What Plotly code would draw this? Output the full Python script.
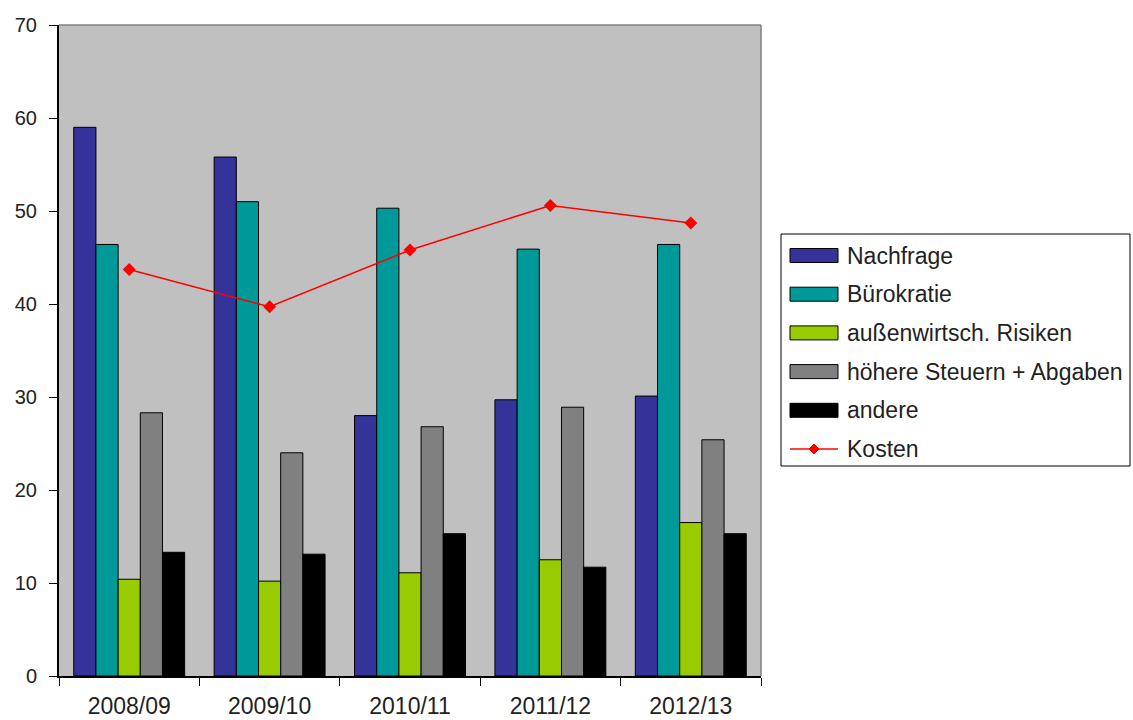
import plotly.graph_objects as go

# Survey years (x categories)
years = ["2008/09", "2009/10", "2010/11", "2011/12", "2012/13"]

# Share of answers per obstacle, in percent
nachfrage = [59.0, 55.8, 28.0, 29.7, 30.1]
buerokratie = [46.4, 51.0, 50.3, 45.9, 46.4]
aussenwirtschaft = [10.4, 10.2, 11.1, 12.5, 16.5]
steuern = [28.3, 24.0, 26.8, 28.9, 25.4]
andere = [13.3, 13.1, 15.3, 11.7, 15.3]
kosten = [43.7, 39.7, 45.8, 50.6, 48.7]

bar_series = [
    ("Nachfrage", nachfrage, "#333399"),
    ("Bürokratie", buerokratie, "#009999"),
    ("außenwirtsch. Risiken", aussenwirtschaft, "#99cc00"),
    ("höhere Steuern + Abgaben", steuern, "#808080"),
    ("andere", andere, "#000000"),
]
line_name, line_color = "Kosten", "#ff0000"

W, H = 1133, 720
M_L, M_R, M_T, M_B = 59, 372, 25, 44
PLOT_W = W - M_L - M_R
PLOT_H = H - M_T - M_B


def px(x):
    """Pixel column -> paper x."""
    return (x - M_L) / PLOT_W


def py(y):
    """Pixel row -> paper y."""
    return (H - M_B - y) / PLOT_H


fig = go.Figure()
for name, values, color in bar_series:
    fig.add_trace(go.Bar(
        x=years, y=values, name=name,
        marker=dict(color=color, line=dict(color="#000000", width=1)),
    ))

fig.add_trace(go.Scatter(
    x=years, y=kosten, name=line_name, mode="lines+markers",
    line=dict(color=line_color, width=1.5),
    marker=dict(symbol="diamond", size=10, color=line_color),
))

shapes = []
# Plot-area frame on the top and right sides
shapes.append(dict(type="line", xref="paper", yref="paper", x0=0, x1=1, y0=1, y1=1,
                   line=dict(color="#808080", width=1.5)))
shapes.append(dict(type="line", xref="paper", yref="paper", x0=1, x1=1, y0=0, y1=1,
                   line=dict(color="#808080", width=1.5)))

font_family = "Liberation Sans, Arial, sans-serif"
text_color = "#222222"

# Legend box drawn beside the plot
LEG_X0, LEG_X1, LEG_Y0, LEG_Y1 = 781, 1130, 234, 466
shapes.append(dict(type="rect", xref="paper", yref="paper", layer="above",
                   x0=px(LEG_X0), x1=px(LEG_X1), y0=py(LEG_Y1), y1=py(LEG_Y0),
                   fillcolor="#ffffff", line=dict(color="#000000", width=1)))

annotations = []
row0, row_step = 255.5, 38.7
sw_x0, sw_x1, sw_half = 790, 838, 7
text_x = 845
for i, (name, _, color) in enumerate(bar_series):
    cy = row0 + i * row_step
    shapes.append(dict(type="rect", xref="paper", yref="paper", layer="above",
                       x0=px(sw_x0), x1=px(sw_x1), y0=py(cy + sw_half), y1=py(cy - sw_half),
                       fillcolor=color, line=dict(color="#000000", width=1)))
    annotations.append(dict(xref="paper", yref="paper", x=px(text_x), y=py(cy),
                            xanchor="left", yanchor="middle", showarrow=False,
                            text=name, font=dict(family=font_family, size=23, color=text_color)))

cy = row0 + len(bar_series) * row_step
shapes.append(dict(type="line", xref="paper", yref="paper", layer="above",
                   x0=px(sw_x0), x1=px(sw_x1), y0=py(cy), y1=py(cy),
                   line=dict(color=line_color, width=1.5)))
mx, d = (sw_x0 + sw_x1) / 2, 5
shapes.append(dict(type="path", xref="paper", yref="paper", layer="above",
                   path=(f"M {px(mx - d)} {py(cy)} L {px(mx)} {py(cy - d)} "
                         f"L {px(mx + d)} {py(cy)} L {px(mx)} {py(cy + d)} Z"),
                   fillcolor=line_color, line=dict(color=line_color, width=1)))
annotations.append(dict(xref="paper", yref="paper", x=px(text_x), y=py(cy),
                        xanchor="left", yanchor="middle", showarrow=False,
                        text=line_name, font=dict(family=font_family, size=23, color=text_color)))

fig.update_layout(
    width=W, height=H,
    margin=dict(l=M_L, r=M_R, t=M_T, b=M_B, autoexpand=False),
    paper_bgcolor="#ffffff",
    plot_bgcolor="#c0c0c0",
    barmode="group",
    bargap=0.21,
    bargroupgap=0,
    font=dict(family=font_family, size=20, color=text_color),
    showlegend=False,
    shapes=shapes,
    annotations=annotations,
)

fig.update_xaxes(
    type="category", automargin=False,
    showline=True, linecolor="#000000", linewidth=2,
    ticks="outside", tickson="boundaries", ticklen=8, tickcolor="#000000",
    showgrid=False, zeroline=False,
    tickfont=dict(size=23),
    ticklabelstandoff=8,
)
fig.update_yaxes(
    range=[0, 70], dtick=10, automargin=False,
    showline=True, linecolor="#000000", linewidth=2,
    ticks="outside", ticklen=8, tickcolor="#000000",
    showgrid=False, zeroline=False,
    tickfont=dict(size=20),
    ticklabelstandoff=8,
)

fig.write_html("out.html")
